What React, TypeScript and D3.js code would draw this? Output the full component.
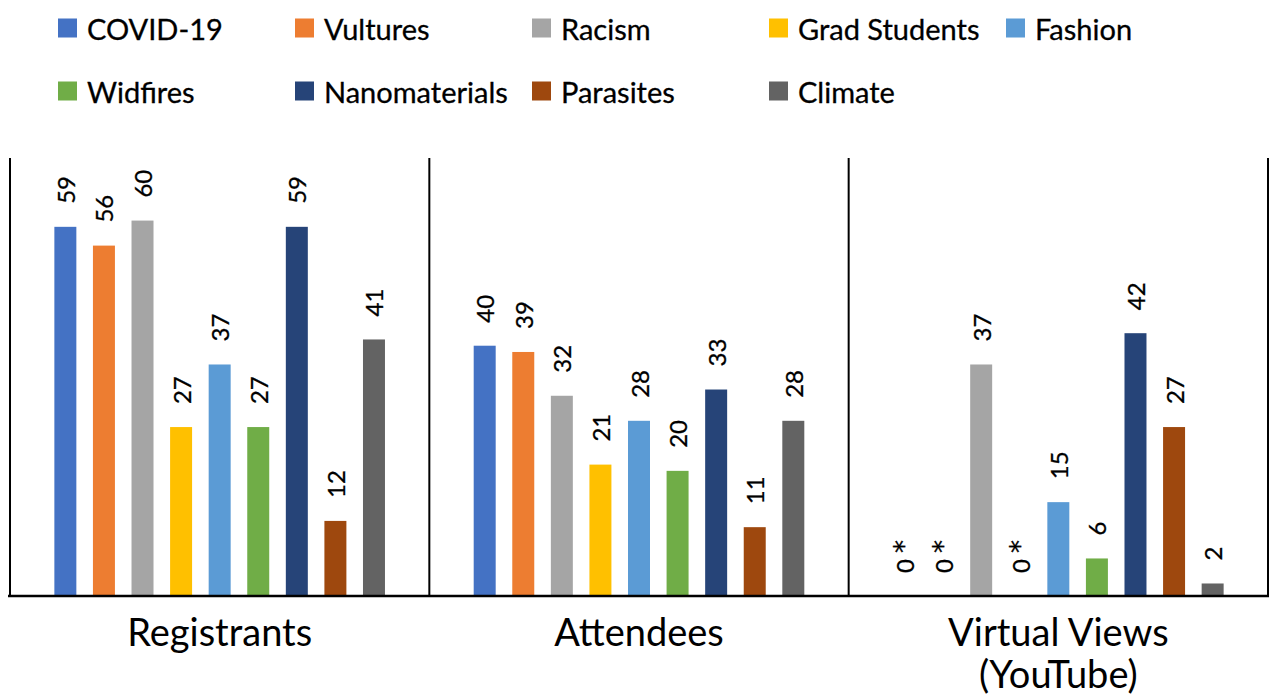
import React, { useEffect, useRef } from "react";
import * as d3 from "d3";

const categories = ["Registrants", "Attendees", "Virtual Views\n(YouTube)"];
const series = [
  "COVID-19",
  "Vultures",
  "Racism",
  "Grad Students",
  "Fashion",
  "Widfires",
  "Nanomaterials",
  "Parasites",
  "Climate",
];
const colors = [
  "#4472C4",
  "#ED7D31",
  "#A5A5A5",
  "#FFC000",
  "#5B9BD5",
  "#70AD47",
  "#264478",
  "#9E480E",
  "#636363",
];
// values per series: [Registrants, Attendees, Virtual Views]
const registrants = [59, 56, 60, 27, 37, 27, 59, 12, 41];
const attendees = [40, 39, 32, 21, 28, 20, 33, 11, 28];
const virtualViews = [0, 0, 37, 0, 15, 6, 42, 27, 2];

export default function App() {
  const ref = useRef<SVGSVGElement>(null);

  useEffect(() => {
    const width = 1271;
    const height = 695;
    const font = "Lato, 'Open Sans', sans-serif";

    const svg = d3.select(ref.current);
    svg.selectAll("*").remove();
    svg.attr("width", width).attr("height", height);

    const table = [registrants, attendees, virtualViews];

    const x0 = d3.scaleBand(categories, [10, 1268]).paddingInner(0).paddingOuter(0);
    const x1 = d3
      .scaleBand(series, [0, x0.bandwidth()])
      .paddingInner(0.43)
      .paddingOuter(1.15);
    const y = d3.scaleLinear([0, 70], [596, 158]);

    // bars and value labels
    categories.forEach((cat, ci) => {
      const g = svg.append("g").attr("transform", `translate(${x0(cat)},0)`);
      series.forEach((s, si) => {
        const v = table[ci][si];
        const bx = x1(s)!;
        if (v > 0) {
          g.append("rect")
            .attr("x", bx)
            .attr("y", y(v))
            .attr("width", x1.bandwidth())
            .attr("height", y(0) - y(v))
            .attr("fill", colors[si]);
        }
        const cx = bx + x1.bandwidth() / 2;
        const ty = y(v) - 23;
        const t = g
          .append("text")
          .attr("transform", `translate(${cx},${ty}) rotate(-90)`)
          .attr("text-anchor", "start")
          .attr("dominant-baseline", "central")
          .attr("font-family", font)
          .attr("font-size", 24)
          .attr("fill", "#000")
          .attr("stroke", "#000")
          .attr("stroke-width", 0.3);
        if (v === 0) {
          t.append("tspan").text("0 ");
          t.append("tspan").attr("font-family", "'DejaVu Sans'").attr("font-size", 26).text("*");
        } else {
          t.text(String(v));
        }
      });
    });

    // frame: baseline and category dividers
    const bounds = [10, ...categories.map((c) => x0(c)! + x0.bandwidth())];
    svg
      .append("g")
      .selectAll("line")
      .data(bounds)
      .join("line")
      .attr("x1", (d) => d)
      .attr("x2", (d) => d)
      .attr("y1", y(70))
      .attr("y2", y(0))
      .attr("stroke", "#000")
      .attr("stroke-width", 2);
    svg
      .append("line")
      .attr("x1", 8)
      .attr("x2", 1269)
      .attr("y1", y(0))
      .attr("y2", y(0))
      .attr("stroke", "#000")
      .attr("stroke-width", 2.5);

    // category labels
    categories.forEach((cat) => {
      const lines = cat.split("\n");
      const cx = x0(cat)! + x0.bandwidth() / 2;
      const t = svg
        .append("text")
        .attr("x", cx)
        .attr("y", 646)
        .attr("text-anchor", "middle")
        .attr("font-family", font)
        .attr("font-size", 38)
        .attr("fill", "#000");
      lines.forEach((l, i) => {
        t.append("tspan")
          .attr("x", cx)
          .attr("dy", i === 0 ? 0 : 42)
          .text(l);
      });
    });

    // legend
    const cols = d3.scaleLinear([0, 1], [58, 295]);
    const legend = svg.append("g");
    series.forEach((s, i) => {
      const col = i < 5 ? i : i - 5;
      const row = i < 5 ? 0 : 1;
      const lx = cols(col);
      const ly = row === 0 ? 28 : 91;
      legend
        .append("rect")
        .attr("x", lx)
        .attr("y", ly - 9.5)
        .attr("width", 19)
        .attr("height", 19)
        .attr("fill", colors[i]);
      legend
        .append("text")
        .attr("x", lx + 29)
        .attr("y", ly)
        .attr("dominant-baseline", "central")
        .attr("font-family", font)
        .attr("font-size", 29)
        .attr("fill", "#000")
        .attr("stroke", "#000")
        .attr("stroke-width", 0.3)
        .text(s);
    });
  }, []);

  return (
    <svg
      ref={ref}
      style={{ position: "absolute", left: 0, top: 0, background: "#fff" }}
    />
  );
}
